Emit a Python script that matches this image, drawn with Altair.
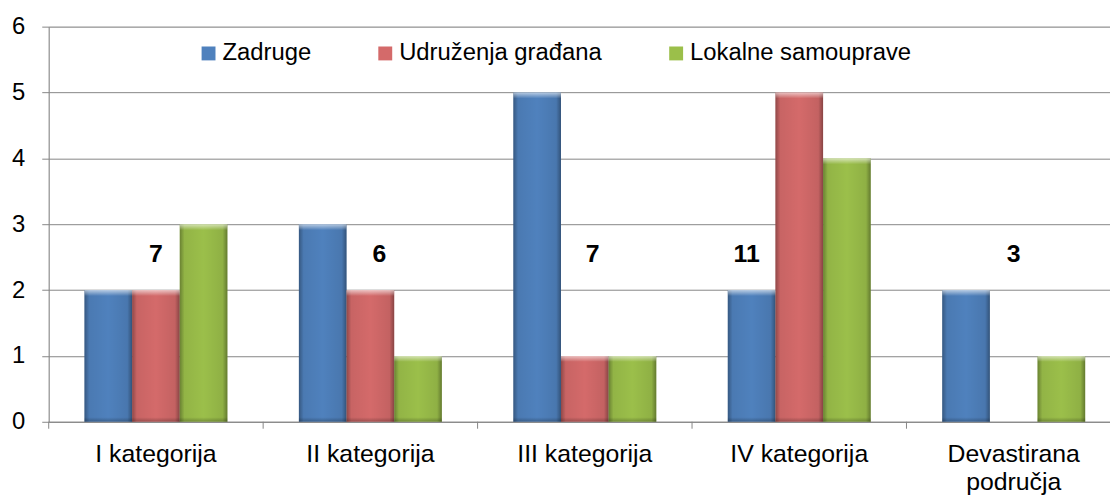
import altair as alt
import pandas as pd

categories = ["I kategorija", "II kategorija", "III kategorija", "IV kategorija", "Devastirana područja"]
series = ["Zadruge", "Udruženja građana", "Lokalne samouprave"]
zadruge = [2, 3, 5, 2, 2]
udruzenja = [2, 2, 1, 5, 0]
lokalne = [3, 1, 1, 4, 1]
totals = ["7", "6", "7", "11", "3"]
y_ticks = [0, 1, 2, 3, 4, 5, 6]

colors = ["#4F81BD", "#D46A6A", "#9BBF4A"]
label_dx = [0, 9, 8, -53, 0]
label_level = 2.55

rows = []
for name, vals in zip(series, [zadruge, udruzenja, lokalne]):
    for c, v in zip(categories, vals):
        rows.append({"cat": c, "series": name, "value": v})
df = pd.DataFrame(rows)
labels_df = pd.DataFrame({"cat": categories, "total": totals})
cats_df = pd.DataFrame({"cat": categories})

W, H = 1069, 398
FONT = "Liberation Sans"
GRAY = "#868686"

x_scale = alt.Scale(domain=categories, range=[0, 1080], paddingInner=0, paddingOuter=0)
xo_scale = alt.Scale(domain=series, paddingInner=0, paddingOuter=0.75)
y_scale = alt.Scale(domain=[0, 6])

x_axis = alt.Axis(
    title=None, ticks=False, domain=True, domainColor=GRAY, domainWidth=1,
    labelFontSize=25, labelFont=FONT, labelColor="#000000", labelPadding=20,
    labelAngle=0, labelLineHeight=28, labelLimit=400,
    labelExpr="datum.label == 'Devastirana područja' ? ['Devastirana', 'područja'] : datum.label",
)
y_axis = alt.Axis(
    title=None, values=y_ticks, grid=True, gridColor=GRAY, gridWidth=1,
    domain=True, domainColor=GRAY, ticks=True, tickColor=GRAY, tickSize=7,
    labelFontSize=24, labelFont=FONT, labelColor="#000000", labelPadding=17,
)

def X(**kw):
    return alt.X("cat:N", scale=x_scale, axis=x_axis, sort=categories, **kw)

def Y(field):
    return alt.Y(field, scale=y_scale, axis=y_axis)

def XO():
    return alt.XOffset("series:N", scale=xo_scale, sort=series)

base = alt.Chart(df)

bars = base.mark_bar().encode(
    x=X(),
    xOffset=XO(),
    y=Y("value:Q"),
    color=alt.Color(
        "series:N", sort=series,
        scale=alt.Scale(domain=series, range=colors),
        legend=alt.Legend(
            title=None, orient="none", direction="horizontal",
            legendX=149, legendY=15, symbolType="square", symbolSize=196,
            symbolStrokeWidth=0, labelFontSize=24, labelFont=FONT,
            labelColor="#000000", labelOffset=2, columnPadding=62,
            labelLimit=400,
        ),
    ),
)

def shade_layer(fill, y_field="value", y2=None, calc=None):
    ch = base.transform_filter("datum.value > 0")
    if calc:
        ch = ch.transform_calculate(**calc)
    enc = dict(x=X(), xOffset=XO(), y=Y(f"{y_field}:Q"))
    if y2:
        enc["y2"] = alt.Y2(y2)
    return ch.mark_bar(fill=fill).encode(**enc)

edge = shade_layer(alt.LinearGradient(
    gradient="linear", x1=0, x2=1, y1=0, y2=0,
    stops=[
        alt.GradientStop(color="rgba(0,0,0,0.32)", offset=0),
        alt.GradientStop(color="rgba(0,0,0,0.06)", offset=0.1),
        alt.GradientStop(color="rgba(0,0,0,0)", offset=0.5),
        alt.GradientStop(color="rgba(0,0,0,0.08)", offset=0.9),
        alt.GradientStop(color="rgba(0,0,0,0.36)", offset=1),
    ]))

top = shade_layer(alt.LinearGradient(
    gradient="linear", x1=0, x2=0, y1=0, y2=1,
    stops=[
        alt.GradientStop(color="rgba(255,255,255,0.6)", offset=0),
        alt.GradientStop(color="rgba(255,255,255,0)", offset=1),
    ]), y_field="value", y2="topb:Q", calc={"topb": "datum.value - 0.09"})

bottom = shade_layer(alt.LinearGradient(
    gradient="linear", x1=0, x2=0, y1=0, y2=1,
    stops=[
        alt.GradientStop(color="rgba(0,0,0,0)", offset=0),
        alt.GradientStop(color="rgba(0,0,0,0.25)", offset=1),
    ]), y_field="b0", y2="b1:Q", calc={"b0": "0", "b1": "0.07"})

ticks = alt.Chart(cats_df).mark_rule(color=GRAY, strokeWidth=1).encode(
    x=X(bandPosition=0),
    y=alt.value(H),
    y2=alt.value(H + 7),
)

text_layers = []
for i, c in enumerate(categories):
    t = alt.Chart(labels_df).transform_filter(
        alt.datum.cat == c
    ).transform_calculate(lv=str(label_level)).mark_text(
        fontSize=25, fontWeight="bold", font=FONT, color="#000000",
        baseline="middle", align="center", dx=label_dx[i],
    ).encode(
        x=X(),
        y=Y("lv:Q"),
        text="total:N",
    )
    text_layers.append(t)

chart = alt.layer(bars, edge, top, bottom, ticks, *text_layers).properties(
    width=W, height=H,
    autosize=alt.AutoSizeParams(type="none"),
    padding={"left": 41, "top": 17, "right": 0, "bottom": 74},
).configure_view(stroke=None).configure(background="#ffffff")

chart.save("out.html", embed_options={"renderer": "svg", "actions": False})
